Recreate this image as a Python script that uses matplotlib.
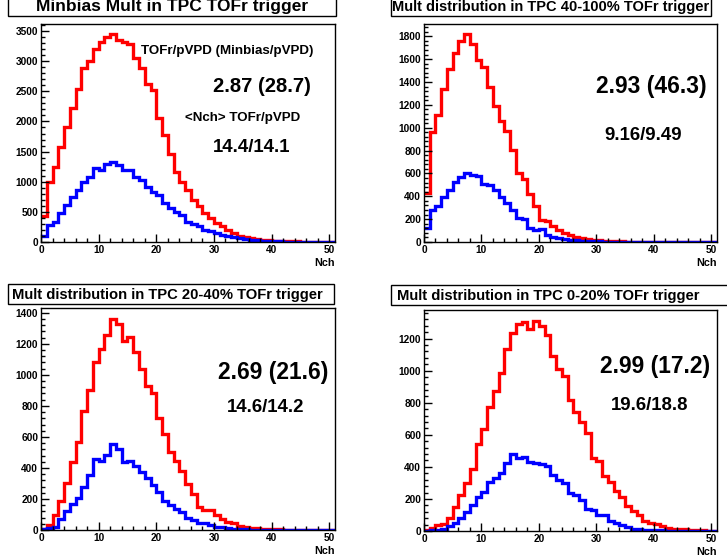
import numpy as np
import matplotlib
matplotlib.use("Agg")
import matplotlib.pyplot as plt
from matplotlib.patches import Rectangle
from matplotlib.ticker import MultipleLocator

plt.rcParams['font.family'] = ['Liberation Sans', 'DejaVu Sans']
plt.rcParams['font.weight'] = 'bold'

# Nch histograms, bins of width 1 starting at 0 (TOFr = red, pVPD = blue)
minbias_tofr = [430, 1000, 1250, 1580, 1910, 2225, 2540, 2880, 3005, 3210,
                3325, 3400, 3445, 3345, 3325, 3280, 3050, 2895, 2620, 2520,
                2060, 1770, 1467, 1165, 1000, 863, 700, 590, 480, 395,
                313, 258, 203, 150, 104, 80, 62, 48, 38, 30,
                22, 18, 14, 11, 9, 7, 5, 4, 3, 2, 2]
minbias_pvpd = [93, 285, 340, 478, 615, 750, 860, 1000, 1080, 1235,
                1190, 1300, 1330, 1275, 1190, 1200, 1080, 1030, 905, 835,
                780, 643, 560, 505, 450, 325, 300, 258, 203, 175,
                150, 110, 93, 77, 60, 45, 35, 28, 20, 15,
                12, 9, 7, 5, 4, 3, 2, 2, 1, 1, 1]

c40_100_tofr = [433, 965, 1110, 1343, 1517, 1654, 1756, 1817, 1735, 1596,
                1532, 1358, 1189, 1058, 974, 805, 608, 549, 421, 317,
                195, 180, 137, 108, 78, 64, 44, 35, 26, 20,
                15, 10, 8, 6, 5, 4, 3, 3, 2, 2,
                2, 1, 1, 1, 1, 1, 0, 0, 0, 0, 0]
c40_100_pvpd = [122, 276, 311, 398, 456, 529, 573, 608, 587, 581,
                509, 500, 456, 398, 340, 282, 209, 200, 122, 108,
                113, 64, 44, 35, 26, 20, 15, 11, 8, 6,
                5, 4, 3, 2, 2, 1, 1, 1, 1, 0,
                0, 0, 0, 0, 0, 0, 0, 0, 0, 0, 0]

c20_40_tofr = [5, 33, 98, 185, 305, 436, 567, 768, 905, 1080,
               1167, 1254, 1363, 1330, 1221, 1247, 1145, 1036, 927, 883,
               724, 622, 502, 447, 382, 294, 231, 148, 131, 126,
               98, 70, 54, 44, 26, 17, 13, 10, 8, 6,
               5, 4, 3, 2, 2, 1, 1, 1, 0, 0, 0]
c20_40_pvpd = [4, 11, 22, 70, 120, 170, 207, 279, 353, 458,
               447, 484, 556, 519, 440, 447, 414, 375, 338, 288,
               244, 185, 164, 135, 113, 76, 65, 44, 48, 33,
               22, 17, 11, 8, 6, 4, 3, 2, 2, 1,
               1, 1, 0, 0, 0, 0, 0, 0, 0, 0, 0]

c0_20_tofr = [4, 21, 36, 46, 84, 150, 224, 301, 385, 543,
              635, 773, 872, 987, 1133, 1233, 1290, 1304, 1262, 1313,
              1279, 1220, 1091, 1012, 966, 815, 740, 683, 610, 453,
              439, 343, 307, 251, 209, 155, 125, 98, 63, 50,
              42, 29, 19, 15, 13, 10, 8, 8, 4, 2, 1]
c0_20_pvpd = [0, 4, 8, 15, 29, 50, 84, 119, 161, 213,
              245, 307, 328, 360, 422, 481, 453, 464, 433, 426,
              418, 405, 349, 318, 301, 234, 224, 192, 140, 130,
              98, 102, 63, 50, 36, 25, 15, 12, 8, 6,
              5, 4, 3, 2, 2, 1, 1, 1, 0, 0, 0]

titles = ["Minbias Mult in TPC TOFr trigger",
          "Mult distribution in TPC 40-100% TOFr trigger",
          "Mult distribution in TPC 20-40% TOFr trigger",
          "Mult distribution in TPC 0-20% TOFr trigger"]
ratios = ["2.87 (28.7)", "2.93 (46.3)", "2.69 (21.6)", "2.99 (17.2)"]
mean_nch = ["14.4/14.1", "9.16/9.49", "14.6/14.2", "19.6/18.8"]

W, H = 727, 558
fig = plt.figure(figsize=(W / 100, H / 100), dpi=100)


def fx(px):
    return px / W


def fy(py):
    return 1 - py / H


# pixel boxes: axes (left, top, right, bottom), title box, title centre, text spots
panels = [
    dict(tofr=minbias_tofr, pvpd=minbias_pvpd, ax=(41, 24, 335, 242), major=500,
         tbox=(8, -5, 336, 16), tpos=(172, 7), tsize=12.5,
         ratio=(213, 87, 14.6), mean=(213, 147)),
    dict(tofr=c40_100_tofr, pvpd=c40_100_pvpd, ax=(424, 24, 717, 242), major=200,
         tbox=(391, -5, 711, 16), tpos=(551, 7), tsize=10.5,
         ratio=(596, 86, 16.4), mean=(604, 136)),
    dict(tofr=c20_40_tofr, pvpd=c20_40_pvpd, ax=(41, 308, 335, 530), major=200,
         tbox=(8, 284, 334, 304), tpos=(167, 295), tsize=10.6,
         ratio=(218, 372, 16.4), mean=(227, 408)),
    dict(tofr=c0_20_tofr, pvpd=c0_20_pvpd, ax=(424, 310, 717, 531), major=200,
         tbox=(391, 285, 740, 305), tpos=(548, 296), tsize=10.6,
         ratio=(600, 367, 16.4), mean=(611, 406)),
]

for i, p in enumerate(panels):
    l, t, r, b = p["ax"]
    ax = fig.add_axes([fx(l), fy(b), fx(r) - fx(l), fy(t) - fy(b)])
    tofr = np.array(p["tofr"], dtype=float)
    pvpd = np.array(p["pvpd"], dtype=float)
    ax.stairs(tofr, np.arange(len(tofr) + 1), color="#ff0000", lw=2.4, baseline=None)
    ax.stairs(pvpd, np.arange(len(pvpd) + 1), color="#0000ff", lw=2.4, baseline=None)
    ax.set_xlim(0, 51)
    ax.set_ylim(0, 1.05 * tofr.max())

    ax.xaxis.set_major_locator(MultipleLocator(10))
    ax.xaxis.set_minor_locator(MultipleLocator(2))
    ax.yaxis.set_major_locator(MultipleLocator(p["major"]))
    ax.yaxis.set_minor_locator(MultipleLocator(p["major"] / 5))
    ax.tick_params(which="both", direction="in", top=False, right=False,
                   labelsize=7.3, width=1)
    ax.tick_params(which="major", length=6, pad=2)
    ax.tick_params(which="minor", length=3)
    for s in ax.spines.values():
        s.set_linewidth(1)

    fig.text(fx(r), fy(b + 21), "Nch", ha="right", va="center",
             fontsize=7.8, fontweight="bold")

    # title box
    x0, y0, x1, y1 = p["tbox"]
    fig.patches.append(Rectangle((fx(x0), fy(y1)), fx(x1) - fx(x0), fy(y0) - fy(y1),
                                 transform=fig.transFigure, facecolor="white",
                                 edgecolor="black", lw=1))
    tx, ty = p["tpos"]
    fig.text(fx(tx), fy(ty), titles[i], ha="center", va="center",
             fontsize=p["tsize"], fontweight="bold")

    rx, ry, rs = p["ratio"]
    fig.text(fx(rx), fy(ry), ratios[i], ha="left", va="center",
             fontsize=rs, fontweight="bold")
    mx, my = p["mean"]
    fig.text(fx(mx), fy(my), mean_nch[i], ha="left", va="center",
             fontsize=13.4, fontweight="bold")

fig.text(fx(141), fy(51), "TOFr/pVPD (Minbias/pVPD)", ha="left", va="center",
         fontsize=9.6, fontweight="bold")
fig.text(fx(185), fy(118), "<Nch> TOFr/pVPD", ha="left", va="center",
         fontsize=9.6, fontweight="bold")

fig.savefig("out.png", dpi=100)
